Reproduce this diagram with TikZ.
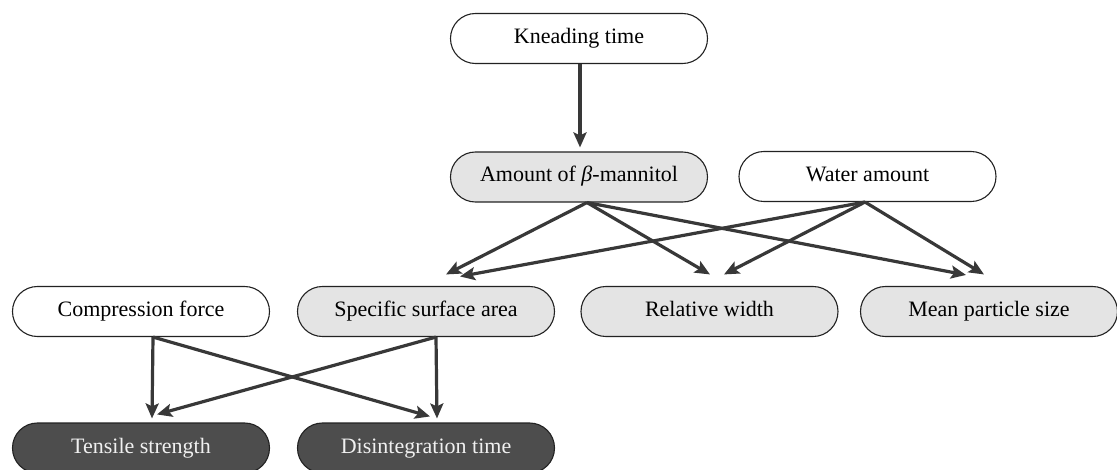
\documentclass[tikz,border=0pt]{standalone}
\usepackage{fontspec}
\setmainfont{Liberation Serif}
\usetikzlibrary{arrows.meta}
\definecolor{lightfill}{HTML}{E4E4E4}
\definecolor{darkfill}{HTML}{4D4D4D}
\definecolor{arrowcol}{HTML}{383838}
\definecolor{bordercol}{HTML}{222222}
\tikzset{
  box/.style={draw=bordercol, line width=1.1pt, rounded corners=24.9pt,
    minimum width=257pt, minimum height=50pt, inner sep=0pt,
    font=\fontsize{22}{26}\selectfont, text height=15pt, text depth=5pt},
  whitebox/.style={box, fill=white},
  greybox/.style={box, fill=lightfill},
  darkbox/.style={box, fill=darkfill, text=white!94!black},
  arr/.style={draw=arrowcol, line width=3.2pt,
    -{Stealth[length=15pt,width=13pt,inset=3pt]}}
}
\begin{document}
\begin{tikzpicture}[x=1pt,y=-1pt]
\useasboundingbox (0,0) rectangle (1117,470);
\node[whitebox] (knead) at (579,38.5) {Kneading time};
\node[greybox] (amount) at (579,177) {Amount of \textit{β}-mannitol};
\node[whitebox] (water) at (867.5,176.5) {Water amount};
\node[whitebox] (comp) at (141,311.5) {Compression force};
\node[greybox] (spec) at (426,311.5) {Specific surface area};
\node[greybox] (rel) at (709.5,311.5) {Relative width};
\node[greybox] (mean) at (989,311.5) {Mean particle size};
\node[darkbox] (tens) at (141,448) {Tensile strength};
\node[darkbox] (dis) at (426,448) {Disintegration time};

\draw[arr] ([xshift=1pt]knead.south) -- ([xshift=1pt,yshift=4pt]amount.north);

\draw[arr] ([xshift=8pt]amount.south) -- ([xshift=20pt,yshift=11.5pt]spec.north);
\draw[arr] ([xshift=8pt]amount.south) -- ([xshift=0.5pt,yshift=11.5pt]rel.north);
\draw[arr] ([xshift=8pt]amount.south) -- ([xshift=-23pt,yshift=11pt]mean.north);

\draw[arr] ([xshift=-2.5pt]water.south) -- ([xshift=34pt,yshift=9.5pt]spec.north);
\draw[arr] ([xshift=-2.5pt]water.south) -- ([xshift=14.5pt,yshift=11.5pt]rel.north);
\draw[arr] ([xshift=-2.5pt]water.south) -- ([xshift=-5pt,yshift=11.5pt]mean.north);

\draw[arr] ([xshift=12pt]comp.south) -- ([xshift=11pt,yshift=4pt]tens.north);
\draw[arr] ([xshift=12pt]comp.south) -- ([xshift=4pt,yshift=6pt]dis.north);
\draw[arr] ([xshift=10pt]spec.south) -- ([xshift=11pt,yshift=4pt]dis.north);
\draw[arr] ([xshift=10pt]spec.south) -- ([xshift=16pt,yshift=8pt]tens.north);
\end{tikzpicture}
\end{document}
